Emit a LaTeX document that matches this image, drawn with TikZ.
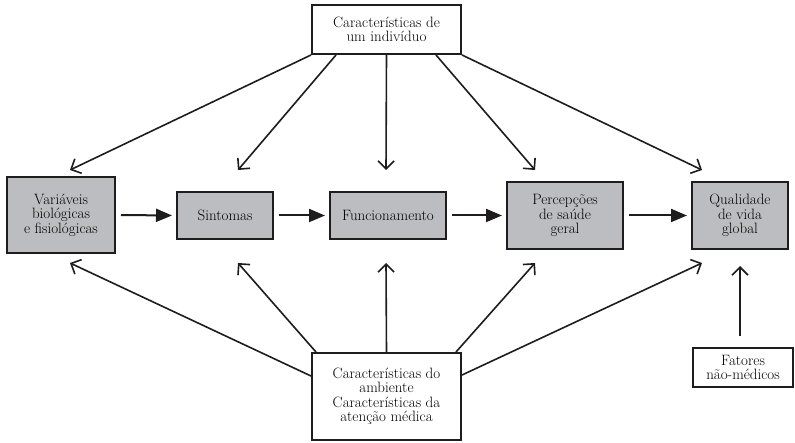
\documentclass[tikz,border=0pt]{standalone}
\usepackage{fontspec}
\usepackage{tikz}
\usepackage{xcolor}
\usetikzlibrary{arrows.meta,positioning}

\definecolor{boxgray}{RGB}{188,189,192}
\definecolor{inkblack}{RGB}{30,28,29}

\begin{document}
\begin{tikzpicture}
[x=1pt,y=-1pt,font=\fontsize{15}{14.5}\selectfont,
      caixa/.style={draw=inkblack,line width=2pt,align=center,inner sep=0pt},
      fator/.style={caixa,fill=boxgray},
      seta/.style={inkblack,line width=2pt,-{Triangle[length=16pt,width=13pt]},
      shorten <=5pt,shorten >=4pt},
      influi/.style={inkblack,line width=1.6pt,-{Straight Barb[length=8pt,width=16pt]}}]
 \useasboundingbox (0,0) rectangle (795,443);
 % caixas de cima e de baixo
 \node[caixa,minimum width=149pt,minimum height=49pt] (indiv) at (386.5,29.5)
  {Características de\\um indivíduo};
 \node[caixa,minimum width=149pt,minimum height=87pt] (amb) at (386.5,396.5)
  {Características do\\ambiente\\Características da\\atenção médica};
 \node[caixa,minimum width=100pt,minimum height=39pt] (naomed) at (743,367.5)
  {Fatores\\não-médicos};
 % cadeia do meio
 \node[fator,minimum width=108pt,minimum height=76pt] (bio) at (61,215)
  {Variáveis\\biológicas\\e fisiológicas};
 \node[fator,minimum width=96pt,minimum height=47pt] (sint) at (225,215.5) {Sintomas};
 \node[fator,minimum width=116pt,minimum height=47pt] (func) at (388,215.5) {Funcionamento};
 \node[fator,minimum width=116pt,minimum height=67pt] (perc) at (565,215.5)
  {Percepções\\de saúde\\geral};
 \node[fator,minimum width=96pt,minimum height=67pt] (qual) at (740,215.5)
  {Qualidade\\de vida\\global};
 % pontas livres das setas
 \coordinate (bio-t) at (70,170);
 \coordinate (sint-t) at (238,170);
 \coordinate (func-t) at (386,170);
 \coordinate (perc-t) at (535,170);
 \coordinate (qual-t) at (702,170);
 \coordinate (bio-b) at (70,263);
 \coordinate (sint-b) at (238,263);
 \coordinate (func-b) at (386,263);
 \coordinate (perc-b) at (535,263);
 \coordinate (qual-b) at (702,263);
 \coordinate (qual-n) at (740,266);

 \draw[seta] (bio.east) -- (sint.west);
 \draw[seta] (sint.east) -- (func.west);
 \draw[seta] (func.east) -- (perc.west);
 \draw[seta] (perc.east) -- (qual.west);

 \draw[influi] (indiv.south west) -- (bio-t);
 \draw[influi] ([xshift=25pt]indiv.south west) -- (sint-t);
 \draw[influi] (indiv.south) -- (func-t);
 \draw[influi] ([xshift=-26pt]indiv.south east) -- (perc-t);
 \draw[influi] (indiv.south east) -- (qual-t);

 \draw[influi] ([yshift=-24pt]amb.north west) -- (bio-b);
 \draw[influi] ([xshift=5pt]amb.north west) -- (sint-b);
 \draw[influi] (amb.north) -- (func-b);
 \draw[influi] ([xshift=-6pt]amb.north east) -- (perc-b);
 \draw[influi] ([yshift=-23pt]amb.north east) -- (qual-b);
 \draw[influi] ([yshift=11pt]naomed.north -| qual-n) -- (qual-n);
\end{tikzpicture}
\end{document}
